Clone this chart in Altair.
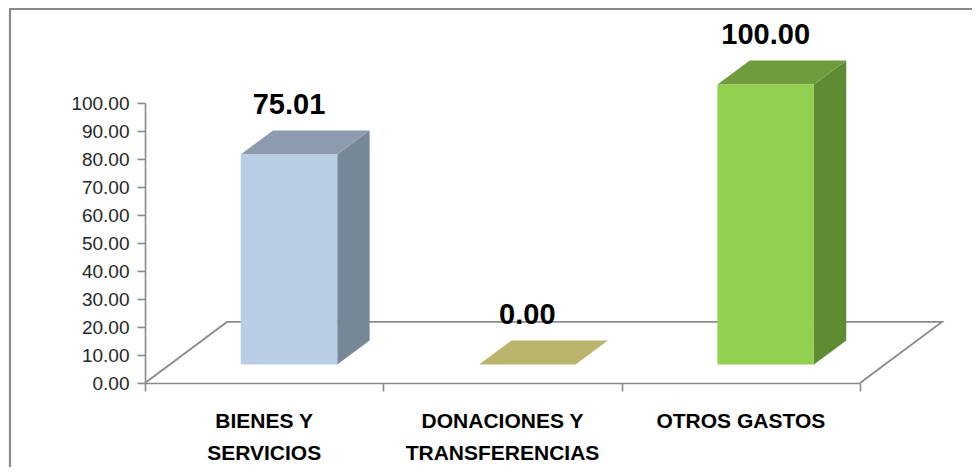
import altair as alt
import pandas as pd

# ---- data ----
categories = ["BIENES Y\nSERVICIOS", "DONACIONES Y\nTRANSFERENCIAS", "OTROS GASTOS"]
values = [75.01, 0.00, 100.00]
y_ticks = [0, 10, 20, 30, 40, 50, 60, 70, 80, 90, 100]

# ---- styles ----
front_colors = ["#B9CDE5", "#BAB56B", "#92D050"]
side_colors = ["#768798", "#9C9858", "#5F8B32"]
top_colors = ["#8D9BAE", "#BAB56B", "#6E9C3D"]
GRAY = "#8A8A8A"
FONT = "Liberation Sans"

# 3-D geometry (depth of floor / bars expressed in scale units)
FDX, FDY = 0.344, 21.8
BFY = 6.6
BFX = FDX * BFY / FDY
BDY = 8.6
BDX = FDX * BDY / FDY
BW = 0.405

n = len(categories)
bars = pd.DataFrame({"cat": categories, "value": values, "idx": list(range(n))})
bars["xl"] = bars["idx"] + 0.5 + BFX - BW / 2
bars["xr"] = bars["xl"] + BW
bars["xc"] = bars["xl"] + BW / 2
bars["yb"] = BFY
bars["yt"] = BFY + bars["value"]
bars["xlab"] = bars["idx"] + 0.5

side_rows, top_rows = [], []
for _, r in bars.iterrows():
    c = r["cat"]
    side_rows.append({"cat": c, "x": r["xr"], "lo": r["yb"], "hi": r["yt"]})
    side_rows.append({"cat": c, "x": r["xr"] + BDX, "lo": r["yb"] + BDY, "hi": r["yt"] + BDY})
    top_rows.append({"cat": c, "y": r["yt"], "lo": r["xl"], "hi": r["xr"]})
    top_rows.append({"cat": c, "y": r["yt"] + BDY, "lo": r["xl"] + BDX, "hi": r["xr"] + BDX})
side = pd.DataFrame(side_rows)
top = pd.DataFrame(top_rows)

floor = pd.DataFrame({
    "x": [0, FDX, n + FDX, n],
    "y": [0, FDY, FDY, 0],
    "o": [0, 1, 2, 3],
})

xs = alt.Scale(domain=[0, n], nice=False, zero=False)
ys = alt.Scale(domain=[0, 100], nice=False, zero=True)
XAX = alt.Axis(values=list(range(n + 1)), labels=False, ticks=True, tickSize=8,
               tickColor=GRAY, domainColor=GRAY, domainWidth=1.6, tickWidth=1.6,
               grid=False, title=None)
YAX = alt.Axis(values=y_ticks, format=".2f", tickSize=8, tickColor=GRAY,
               domainColor=GRAY, domainWidth=1.6, tickWidth=1.6, grid=False,
               title=None, labelFont=FONT, labelFontSize=19, labelColor="#262626",
               labelPadding=8, labelOverlap=False, labelBound=False)

floor_layer = alt.Chart(floor).mark_line(color=GRAY, strokeWidth=1.8).encode(
    x=alt.X("x:Q", scale=xs, axis=XAX),
    y=alt.Y("y:Q", scale=ys, axis=YAX),
    order="o:Q",
)

side_layer = alt.Chart(side).mark_area(orient="vertical", opacity=1).encode(
    x=alt.X("x:Q", scale=xs, axis=XAX),
    y=alt.Y("lo:Q", scale=ys, axis=YAX),
    y2="hi:Q",
    color=alt.Color("cat:N", scale=alt.Scale(domain=categories, range=side_colors), legend=None),
    detail="cat:N",
)

top_layer = alt.Chart(top).mark_area(orient="horizontal", opacity=1).encode(
    y=alt.Y("y:Q", scale=ys, axis=YAX),
    x=alt.X("lo:Q", scale=xs, axis=XAX),
    x2="hi:Q",
    color=alt.Color("cat:N", scale=alt.Scale(domain=categories, range=top_colors), legend=None),
    detail="cat:N",
)

front_layer = alt.Chart(bars).mark_rect().encode(
    x=alt.X("xl:Q", scale=xs, axis=XAX),
    x2="xr:Q",
    y=alt.Y("yb:Q", scale=ys, axis=YAX),
    y2="yt:Q",
    color=alt.Color("cat:N", scale=alt.Scale(domain=categories, range=front_colors), legend=None),
)

value_labels = alt.Chart(bars).mark_text(
    font=FONT, fontSize=29, fontWeight="bold", color="#000000",
    baseline="middle", align="center", dy=-68,
).encode(
    x=alt.X("xc:Q", scale=xs, axis=XAX),
    y=alt.Y("value:Q", scale=ys, axis=YAX),
    text=alt.Text("value:Q", format=".2f"),
)

cat_labels = alt.Chart(bars).mark_text(
    font=FONT, fontSize=21, fontWeight="bold", color="#000000",
    baseline="alphabetic", align="center", lineBreak="\n", lineHeight=32,
).encode(
    x=alt.X("xlab:Q", scale=xs, axis=XAX),
    y=alt.value(325),
    text="cat:N",
)

frame_df = pd.DataFrame({"a": [0]})
frame_left = alt.Chart(frame_df).mark_rule(color=GRAY, strokeWidth=2.2).encode(
    x=alt.value(-135), y=alt.value(-94), y2=alt.value(400)
)
frame_top = alt.Chart(frame_df).mark_rule(color=GRAY, strokeWidth=2.2).encode(
    x=alt.value(-136), x2=alt.value(900), y=alt.value(-94)
)

chart = alt.layer(
    floor_layer, side_layer, top_layer, front_layer, value_labels, cat_labels,
    frame_left, frame_top,
).resolve_scale(color="independent").properties(
    width=715, height=280,
    padding={"left": 137, "top": 95, "right": 112, "bottom": 84},
    autosize=alt.AutoSizeParams(type="none"),
).configure_view(stroke=None)

chart.save("out.html", embed_options={"renderer": "svg", "actions": False})
